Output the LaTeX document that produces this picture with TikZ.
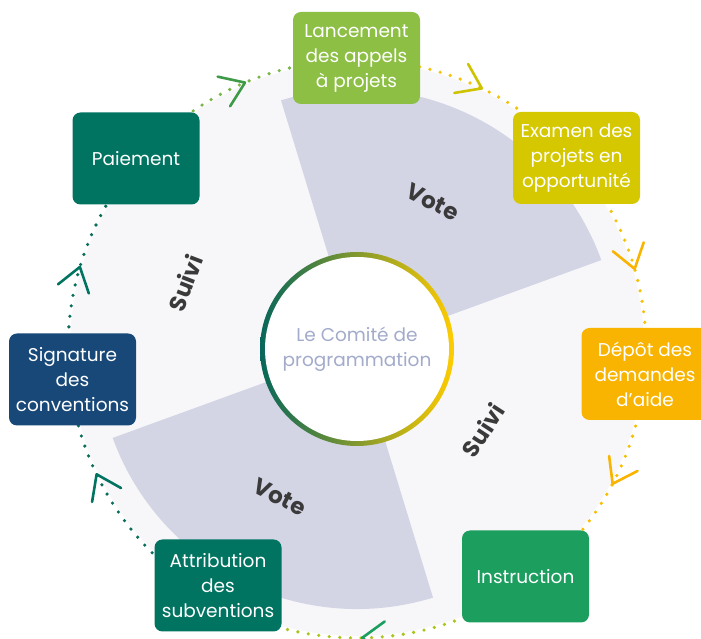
\documentclass[tikz,border=0pt]{standalone}
\usepackage{fontspec}
\setmainfont{Poppins}
\usetikzlibrary{calc,backgrounds}

\definecolor{fondclair}{HTML}{F7F7FA}
\definecolor{votefond}{HTML}{D3D5E5}
\definecolor{lance}{HTML}{8CBF44}
\definecolor{examen}{HTML}{D5C800}
\definecolor{depot}{HTML}{F8B400}
\definecolor{instruction}{HTML}{1C9E5F}
\definecolor{attribution}{HTML}{007361}
\definecolor{signature}{HTML}{184878}
\definecolor{paiement}{HTML}{007361}
\definecolor{comite}{HTML}{A3ABCB}
\definecolor{motgris}{HTML}{3A3A3A}
\definecolor{pvert}{HTML}{7AB648}
\definecolor{pjaune}{HTML}{F4C20D}
\definecolor{porange}{HTML}{F8BE00}
\definecolor{plime}{HTML}{A9C41E}
\definecolor{pteal}{HTML}{0B6E5A}
\definecolor{cvert}{HTML}{3F9A47}
\definecolor{colive}{HTML}{CEC300}
\definecolor{anneau1}{HTML}{07665A}
\definecolor{anneau2}{HTML}{9CC42A}
\definecolor{anneau3}{HTML}{FFCC00}

\newcommand{\fleche}[2]{\draw[chevron, #2] ($(c)+(#1:289)$) ++(#1+125:28) -- ($(c)+(#1:289)$) -- ++(#1+55:28);}
\newcommand{\segment}[3]{\draw[pointille, #3] let \p1 = ($(#1)-(c)$), \p2 = ($(#2)-(c)$),
  \n1 = {atan2(\y1,\x1)}, \n2 = {atan2(\y2,\x2)}, \n3 = {\n2-360*(\n2>\n1)} in
  ($(c)+(\n1:289)$) arc[start angle=\n1, end angle=\n3, radius=289];}

\begin{document}
\begin{tikzpicture}[x=1pt, y=1pt,
  etape/.style={rectangle, rounded corners=8pt, minimum width=127pt, minimum height=92pt, inner sep=0pt, text=white, align=center, font=\fontsize{18.5}{25}\selectfont},
  mot/.style={text=motgris, font=\fontsize{23}{26}\selectfont\bfseries},
  pointille/.style={line width=3.6pt, line cap=round, dash pattern=on 0pt off 10.6pt},
  chevron/.style={line width=2.6pt, line cap=round, line join=round}]
\useasboundingbox (0,0) rectangle (701,639);
\coordinate (c) at (357,290);

\node[etape, fill=lance] (lance) at (356.5,581) {Lancement\\des appels\\à projets};
\node[etape, fill=examen] (examen) at (576.5,481) {Examen des\\projets en\\opportunité};
\node[etape, fill=depot] (depot) at (645,265) {Dépôt des\\demandes\\d’aide};
\node[etape, fill=instruction] (instruction) at (525.5,62.5) {Instruction};
\node[etape, fill=attribution] (attribution) at (218,53.5) {Attribution\\des\\subventions};
\node[etape, fill=signature] (signature) at (72.5,259.5) {Signature\\des\\conventions};
\node[etape, fill=paiement] (paiement) at (136,480.5) {Paiement};

\begin{scope}[on background layer]
\fill[fondclair] (c) circle (287);
\fill[votefond] (c) -- ++(20:260) arc (20:107:260) -- cycle;
\fill[votefond] (c) -- ++(200:260) arc (200:287:260) -- cycle;
\segment{paiement}{lance}{pvert}
\segment{lance}{examen}{pjaune}
\segment{examen}{depot}{pjaune}
\segment{depot}{instruction}{porange}
\segment{instruction}{attribution}{plime}
\segment{attribution}{signature}{pteal}
\segment{signature}{paiement}{pteal}
\end{scope}

\fleche{112.8}{cvert}
\fleche{64.4}{colive}
\fleche{16.1}{depot}
\fleche{-27.8}{depot}
\fleche{-89}{instruction}
\fleche{205.7}{attribution}
\fleche{163.5}{attribution}

\shade[left color=anneau1, middle color=anneau2, right color=anneau3] (c) circle (97);
\fill[white] (c) circle (92);
\node[text=comite, align=center, font=\fontsize{18.5}{25}\selectfont] (comite) at (c) {Le Comité de\\programmation};

\node[mot, rotate=-27] (vote1) at (433,437) {Vote};
\node[mot, rotate=-27] (vote2) at (280,142) {Vote};
\node[mot, rotate=69] (suivi1) at (185,356) {Suivi};
\node[mot, rotate=57] (suivi2) at (483,209) {Suivi};
\end{tikzpicture}
\end{document}
